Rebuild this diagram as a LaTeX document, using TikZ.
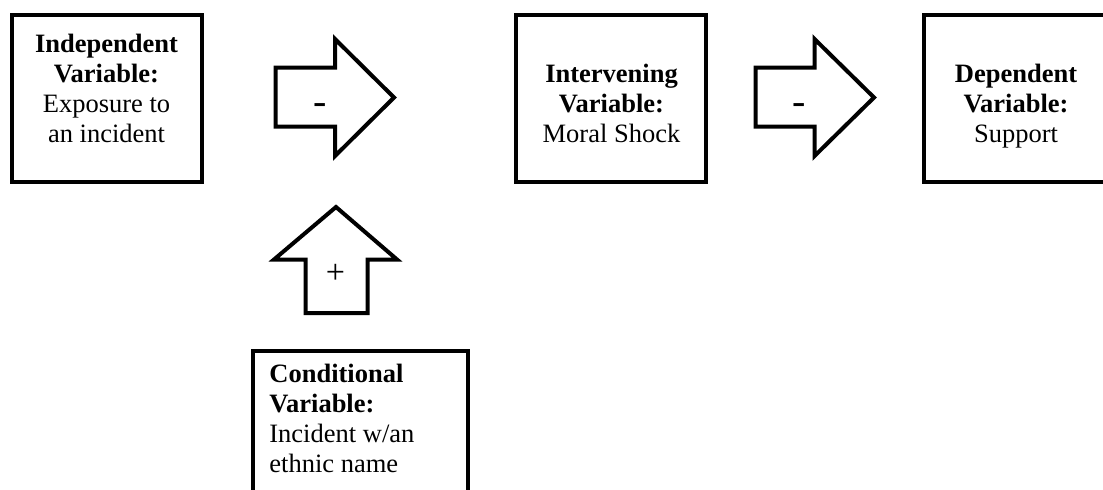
\documentclass[tikz,border=0pt]{standalone}
\usepackage{fontspec}
\setmainfont{Liberation Serif}

\tikzset{
  varbox/.style={draw, line width=2pt, inner sep=0pt},
  vartext/.style={inner sep=0pt, font=\fontsize{13.25}{15}\selectfont},
  blockarrow/.style={draw, line width=2pt, line join=miter},
  signtext/.style={inner sep=0pt, anchor=base}
}

\begin{document}
\begin{tikzpicture}[x=0.5pt, y=-0.5pt]
  \clip (0,0) rectangle (1103,489);

  % Boxes
  \node[varbox, minimum width=95pt, minimum height=83.5pt] (indep) at (106.5,98) {};
  \node[varbox, minimum width=95.25pt, minimum height=83.5pt] (interv) at (611,98) {};
  \node[varbox, minimum width=92pt, minimum height=83.5pt] (dep) at (1016,98) {};
  \node[varbox, minimum width=107.5pt, minimum height=104.75pt] (cond) at (360,455.25) {};

  % Box texts
  \node[vartext, align=center, anchor=north] (indeptext) at (106.5,34)
    {\textbf{Independent}\\\textbf{Variable:}\\Exposure to\\an incident};
  \node[vartext, align=center, anchor=north] (intervtext) at (611.5,64)
    {\textbf{Intervening}\\\textbf{Variable:}\\Moral Shock};
  \node[vartext, align=center, anchor=north] (deptext) at (1016,64)
    {\textbf{Dependent}\\\textbf{Variable:}\\Support};
  \node[vartext, align=left, anchor=north west] (condtext) at (269,364)
    {\textbf{Conditional}\\\textbf{Variable:}\\Incident w/an\\ethnic name};

  % Block arrows
  \draw[blockarrow] (275.5,67.5) -- (335,67.5) -- (335,39) -- (394,97.5)
    -- (335,156) -- (335,126.5) -- (275.5,126.5) -- cycle;
  \draw[blockarrow] (755.5,67.5) -- (814.5,67.5) -- (814.5,39) -- (874,97.5)
    -- (814.5,156) -- (814.5,126.5) -- (755.5,126.5) -- cycle;
  \draw[blockarrow] (305.5,313) -- (305.5,259.5) -- (274,259.5) -- (336,207)
    -- (397,259.5) -- (367.5,259.5) -- (367.5,313) -- cycle;

  % Signs
  \node[signtext, font=\fontsize{20}{20}\selectfont] (minusone) at (320,114.5) {-};
  \node[signtext, font=\fontsize{20}{20}\selectfont] (minustwo) at (799.5,114.5) {-};
  \node[signtext, font=\fontsize{17}{17}\selectfont] (plus) at (335.5,283) {+};
\end{tikzpicture}
\end{document}
